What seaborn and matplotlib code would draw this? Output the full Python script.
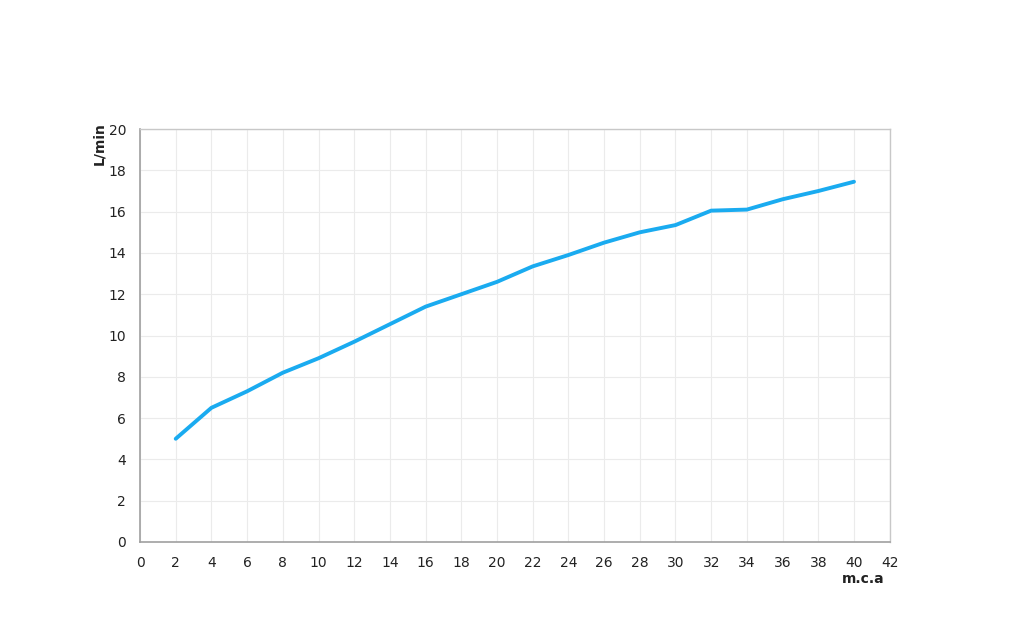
import matplotlib
matplotlib.use("Agg")
import matplotlib.pyplot as plt
import seaborn as sns
import pandas as pd

pressure = [2, 4, 6, 8, 10, 12, 14, 16, 18, 20, 22, 24, 26, 28, 30, 32, 34, 36, 38, 40]
flow = [5.0, 6.5, 7.3, 8.2, 8.9, 9.7, 10.55, 11.4, 12.0, 12.6, 13.35, 13.9, 14.5, 15.0, 15.35, 16.05, 16.1, 16.6, 17.0, 17.45]
x_ticks = list(range(0, 43, 2))
y_ticks = list(range(0, 21, 2))

sns.set_theme(style="white")
plt.rcParams['font.family'] = ['DejaVu Sans']

df = pd.DataFrame({"m.c.a": pressure, "L/min": flow})

fig = plt.figure(figsize=(10.11, 6.39), dpi=100)
ax = fig.add_axes([0.1385, 0.1518, 0.7415, 0.6462])
sns.lineplot(data=df, x="m.c.a", y="L/min", ax=ax, color="#1aabf0", linewidth=2.8)

ax.set_xlim(0, 42)
ax.set_ylim(0, 20)
ax.set_xticks(x_ticks)
ax.set_yticks(y_ticks)
ax.grid(True, color="#ebebeb", linewidth=0.8)
for s in ["left", "bottom"]:
    ax.spines[s].set_color("#a0a0a0")
    ax.spines[s].set_linewidth(1.2)
for s in ["top", "right"]:
    ax.spines[s].set_color("#c8c8c8")
    ax.spines[s].set_linewidth(1.0)
ax.tick_params(axis="both", direction="out", length=4, width=1, color="#a0a0a0",
               labelsize=10, labelcolor="#222222", pad=6)
ax.set_xlabel("")
ax.set_ylabel("")
ax.text(0.965, -0.09, "m.c.a", transform=ax.transAxes, ha="center", va="center",
        fontsize=10, fontweight="bold", color="#222222")
ax.text(-0.055, 0.965, "L/min", transform=ax.transAxes, ha="center", va="center",
        rotation=90, fontsize=10, fontweight="bold", color="#222222")

fig.savefig("out.png", dpi=100)
